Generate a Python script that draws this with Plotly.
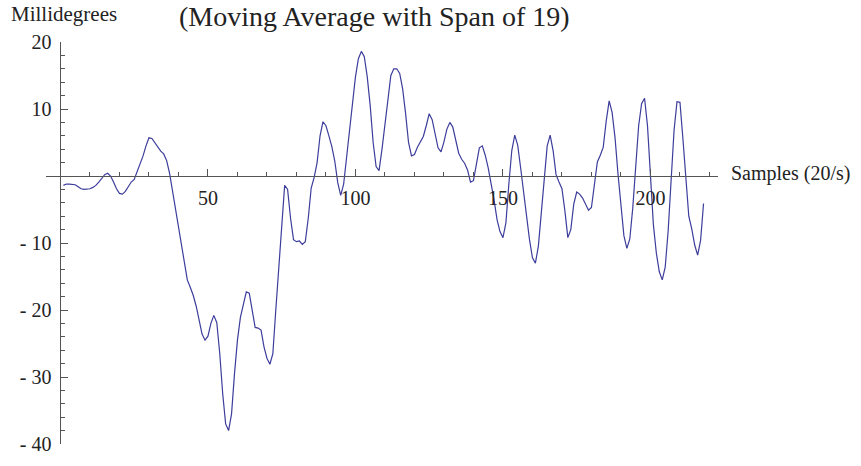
import plotly.graph_objects as go

# Moving-average roll angle, one value per sample (20 samples/s)
samples = list(range(1, 219))
millidegrees = [
    -1.4, -1.2, -1.2, -1.2, -1.3, -1.6, -1.9, -2.0, -2.0, -1.9,
    -1.7, -1.4, -0.9, -0.3, 0.2, 0.4, 0.0, -0.9, -1.9, -2.6,
    -2.7, -2.3, -1.5, -0.9, -0.5, 0.6, 1.8, 3.0, 4.5, 5.7,
    5.6, 4.9, 4.2, 3.7, 3.3, 2.3, 0.4, -2.3, -4.8, -7.2,
    -10.0, -13.2, -15.5, -16.6, -17.8, -19.4, -21.6, -23.6, -24.5, -23.9,
    -22.0, -20.8, -21.9, -26.5, -32.5, -37.0, -38.0, -35.5, -29.5, -24.5,
    -21.1, -19.0, -17.3, -17.5, -20.3, -22.6, -22.7, -23.0, -25.5, -27.2,
    -28.1, -26.5, -20.0, -13.3, -6.5, -1.4, -2.0, -6.3, -9.5, -9.8,
    -9.7, -10.2, -9.8, -6.3, -1.8, -0.2, 2.0, 6.0, 8.1, 7.5,
    6.0, 4.4, 2.2, -1.0, -2.9, -1.2, 2.8, 7.0, 10.9, 14.8,
    17.5, 18.6, 17.8, 14.8, 10.5, 5.0, 1.4, 0.8, 4.0, 8.0,
    11.8, 15.0, 16.0, 16.0, 15.3, 13.0, 9.3, 5.0, 3.0, 3.2,
    4.3, 5.2, 5.9, 7.5, 9.3, 8.4, 6.2, 4.2, 3.6, 5.1,
    7.0, 8.0, 7.3, 5.3, 3.4, 2.5, 1.9, 0.9, -0.9, -0.7,
    1.6, 4.2, 4.5, 3.1, 1.2, -1.0, -3.6, -6.5, -8.3, -9.2,
    -7.0, -1.2, 3.8, 6.1, 4.6, 1.2, -2.4, -6.2, -9.5, -12.2,
    -13.0, -10.5, -6.0, -0.5, 4.5, 6.1, 3.8, 0.2, -0.9, -1.9,
    -5.2, -9.2, -8.0, -4.2, -2.4, -2.7, -3.3, -4.2, -5.1, -4.7,
    -1.5, 2.1, 3.1, 4.3, 8.2, 11.2, 9.5, 5.7, 0.3, -4.4,
    -8.9, -10.8, -9.4, -4.8, 1.6, 7.5, 10.8, 11.6, 7.5, -0.5,
    -7.3, -11.5, -14.3, -15.5, -13.6, -8.2, -0.5, 6.8, 11.1, 11.0,
    5.6, -0.2, -6.0, -7.9, -10.3, -11.8, -9.6, -4.1,
]

x_major = [50, 100, 150, 200]
x_major_text = ["50", "100", "150", "200"]
x_minor = [v for v in range(10, 230, 10) if v not in x_major]
y_major = [-40, -30, -20, -10, 10, 20]
y_major_text = ["- 40", "- 30", "- 20", "- 10", "10", "20"]
y_minor = [v for v in range(-38, 20, 2) if v % 10 != 0]

X_RANGE = [-4.9, 222.9]
Y_RANGE = [-40, 20]

SERIF = "Liberation Serif, Times New Roman, serif"
AXIS_COLOR = "#555555"
TEXT_COLOR = "#222222"

fig = go.Figure(
    go.Scatter(
        x=samples,
        y=millidegrees,
        mode="lines",
        line=dict(color="#3d3d9c", width=1.2),
        hoverinfo="skip",
    )
)

fig.update_layout(
    width=861,
    height=466,
    margin=dict(l=45.7, r=143, t=42.3, b=11),
    paper_bgcolor="white",
    plot_bgcolor="white",
    showlegend=False,
    font=dict(family=SERIF, size=20, color=TEXT_COLOR),
    xaxis=dict(
        range=X_RANGE,
        anchor="free",
        position=(0 - Y_RANGE[0]) / (Y_RANGE[1] - Y_RANGE[0]),
        showgrid=False,
        zeroline=False,
        showline=True,
        linecolor=AXIS_COLOR,
        linewidth=1,
        tickmode="array",
        tickvals=x_major,
        ticktext=x_major_text,
        ticks="inside",
        ticklen=7,
        tickwidth=1,
        tickcolor=AXIS_COLOR,
        ticklabelstandoff=4,
        tickfont=dict(family=SERIF, size=20, color=TEXT_COLOR),
        minor=dict(
            tickmode="array",
            tickvals=x_minor,
            ticks="inside",
            ticklen=4,
            tickwidth=1,
            tickcolor=AXIS_COLOR,
        ),
    ),
    yaxis=dict(
        range=Y_RANGE,
        anchor="free",
        position=(0 - X_RANGE[0]) / (X_RANGE[1] - X_RANGE[0]),
        showgrid=False,
        zeroline=False,
        showline=True,
        linecolor=AXIS_COLOR,
        linewidth=1,
        tickmode="array",
        tickvals=y_major,
        ticktext=y_major_text,
        ticks="inside",
        ticklen=7,
        tickwidth=1,
        tickcolor=AXIS_COLOR,
        ticklabelstandoff=5,
        tickfont=dict(family=SERIF, size=20, color=TEXT_COLOR),
        minor=dict(
            tickmode="array",
            tickvals=y_minor,
            ticks="inside",
            ticklen=4,
            tickwidth=1,
            tickcolor=AXIS_COLOR,
        ),
    ),
    annotations=[
        dict(
            text="(Moving Average with Span of 19)",
            xref="paper", yref="paper",
            x=(177 - 45.7) / 672.3, y=1,
            xanchor="left", yanchor="bottom",
            yshift=8,
            showarrow=False,
            font=dict(family=SERIF, size=28, color=TEXT_COLOR),
        ),
        dict(
            text="Millidegrees",
            xref="paper", yref="paper",
            x=(9 - 45.7) / 672.3, y=1,
            xanchor="left", yanchor="bottom",
            yshift=14,
            showarrow=False,
            font=dict(family=SERIF, size=21, color=TEXT_COLOR),
        ),
        dict(
            text="Samples (20/s)",
            xref="paper", yref="paper",
            x=(729 - 45.7) / 672.3, y=(0 - Y_RANGE[0]) / (Y_RANGE[1] - Y_RANGE[0]),
            xanchor="left", yanchor="middle",
            yshift=3,
            showarrow=False,
            font=dict(family=SERIF, size=20, color=TEXT_COLOR),
        ),
    ],
)

fig.write_html("out.html")
